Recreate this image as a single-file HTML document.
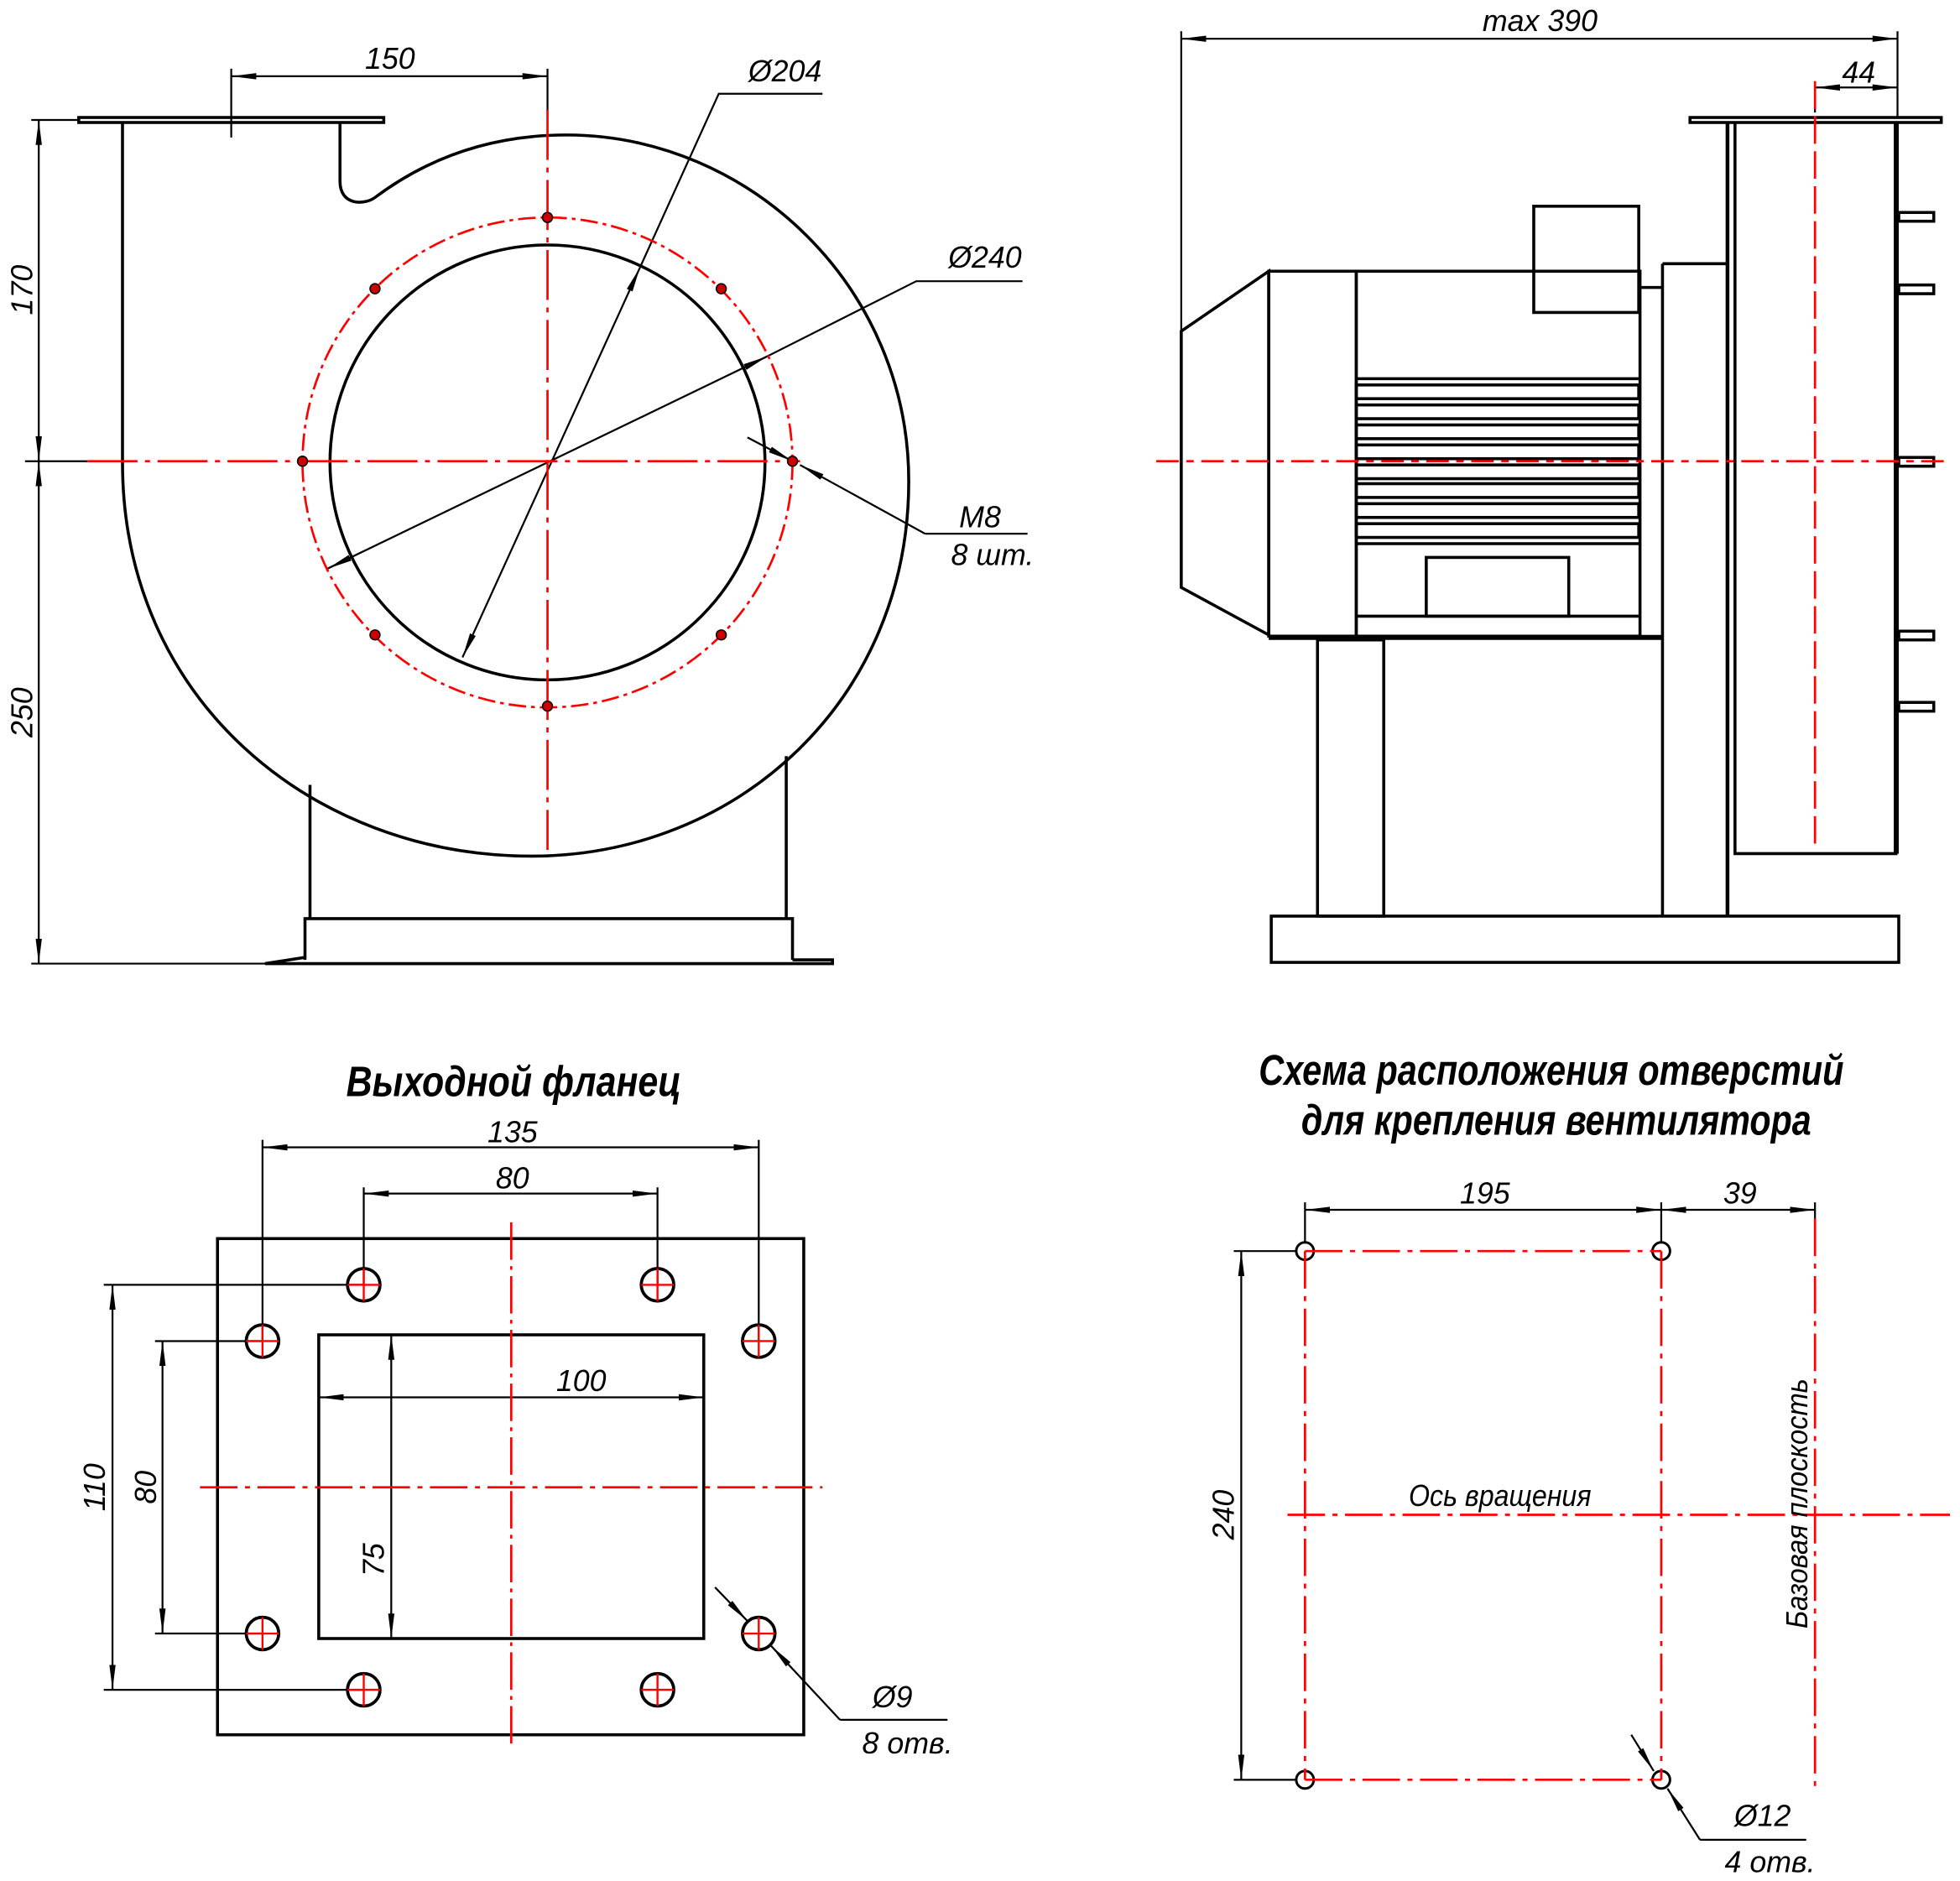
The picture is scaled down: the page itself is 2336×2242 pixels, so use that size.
<!DOCTYPE html>
<html><head><meta charset="utf-8"><style>
html,body{margin:0;padding:0;background:#fff}
svg{display:block}
text{font-family:"Liberation Sans Narrow","Liberation Sans","DejaVu Sans",sans-serif;font-style:italic;fill:#000}
</style></head><body>
<svg width="2336" height="2242" viewBox="0 0 1568 1505" preserveAspectRatio="none" xmlns="http://www.w3.org/2000/svg">
<defs>
<marker id="a" viewBox="0 0 20 6" refX="20" refY="3" markerWidth="20" markerHeight="6" markerUnits="userSpaceOnUse" orient="auto-start-reverse"><path d="M0,0.5 L20,3 L0,5.5z" fill="#000"/></marker>
</defs>
<g fill="none" stroke="#000" stroke-width="2.4">
<!-- TOP LEFT -->
<rect x="63" y="94" width="244" height="4" fill="#fff"/>
<path d="M98,98 L98,370 C98,560 250,685 425,685 C590,685 727,560 727,385 C727,230 600,108 453,108 C390,108 340,128 300,158 C292,164 272,165 272,145 L272,98"/>
<path d="M248,628 L248,735 M629,605 L629,735"/>
<path d="M244,768 L244,735 L634,735 L634,768 M212,771 L244,766 L244,768 M634,768 L666,768 L666,771 L212,771"/>
<circle cx="438" cy="370" r="174"/>
<line x1="25" y1="771" x2="248" y2="771" stroke-width="1.5"/>
<line x1="25" y1="96" x2="63" y2="96" stroke-width="1.5"/>
<line x1="31" y1="96" x2="31" y2="369" stroke-width="1.5" marker-start="url(#a)" marker-end="url(#a)"/>
<line x1="31" y1="369" x2="31" y2="771" stroke-width="1.5" marker-start="url(#a)" marker-end="url(#a)"/>
<line x1="185" y1="55" x2="185" y2="110" stroke-width="1.5"/>
<line x1="438" y1="55" x2="438" y2="90" stroke-width="1.5"/>
<line x1="185" y1="61" x2="438" y2="61" stroke-width="1.5" marker-start="url(#a)" marker-end="url(#a)"/>
<line x1="370" y1="526" x2="512" y2="214" stroke-width="1.5" marker-start="url(#a)" marker-end="url(#a)"/>
<path d="M512,214 L575,75 L658,75" stroke-width="1.5"/>
<line x1="262" y1="455" x2="614" y2="285" stroke-width="1.5" marker-start="url(#a)" marker-end="url(#a)"/>
<path d="M614,285 L733,225 L818,225" stroke-width="1.5"/>
<line x1="598" y1="350" x2="634" y2="369" stroke-width="1.5" marker-end="url(#a)"/>
<line x1="740" y1="427" x2="640" y2="372" stroke-width="1.5" marker-end="url(#a)"/>
<path d="M740,427 L822,427" stroke-width="1.5"/>
<line x1="20" y1="369" x2="70" y2="369" stroke-width="1.5"/>

<!-- TOP RIGHT -->
<line x1="945" y1="25" x2="945" y2="265" stroke-width="1.5"/>
<line x1="1518" y1="25" x2="1518" y2="95" stroke-width="1.5"/>
<line x1="945" y1="31" x2="1518" y2="31" stroke-width="1.5" marker-start="url(#a)" marker-end="url(#a)"/>
<line x1="1452" y1="65" x2="1452" y2="90" stroke-width="1.5"/>
<line x1="1452" y1="70" x2="1518" y2="70" stroke-width="1.5" marker-start="url(#a)" marker-end="url(#a)"/>
<rect x="1352" y="94" width="201" height="4" fill="#fff"/>
<path d="M1388,98 L1388,683 L1518,683"/>
<line x1="1517" y1="98" x2="1517" y2="683" stroke-width="4"/>
<line x1="1382" y1="98" x2="1382" y2="733" stroke-width="3"/>
<g>
<rect x="1519" y="170" width="28" height="7"/><rect x="1519" y="228" width="28" height="7"/>
<rect x="1519" y="366" width="28" height="7"/><rect x="1519" y="505" width="28" height="7"/>
<rect x="1519" y="562" width="28" height="7"/>
</g>
<path d="M945,265 L1015,217 L1015,508 L945,470 Z"/>
<rect x="1015" y="217" width="70" height="292"/>
<rect x="1085" y="217" width="227" height="292"/>
<rect x="1227" y="165" width="84" height="85"/>
<line x1="1085" y1="303" x2="1312" y2="303"/>
<g>
<rect x="1085" y="308" width="226" height="11"/><rect x="1085" y="324" width="226" height="11"/>
<rect x="1085" y="340" width="226" height="11"/><rect x="1085" y="356" width="226" height="11"/>
<rect x="1085" y="372" width="226" height="11"/><rect x="1085" y="387" width="226" height="11"/>
<rect x="1085" y="403" width="226" height="11"/><rect x="1085" y="419" width="226" height="11"/>
</g>
<line x1="1085" y1="435" x2="1312" y2="435"/>
<line x1="1085" y1="493" x2="1312" y2="493"/>
<rect x="1141" y="446" width="114" height="47"/>
<path d="M1312,230 L1330,230 M1330,211 L1382,211 M1330,211 L1330,733"/>
<line x1="1015" y1="510" x2="1330" y2="510" stroke-width="4"/>
<rect x="1054" y="512" width="53" height="221"/>
<rect x="1017" y="733" width="502" height="37"/>

<!-- BOTTOM LEFT -->
<rect x="174" y="991" width="469" height="397"/>
<rect x="255" y="1068" width="308" height="243"/>
<g stroke-width="2.5">
<circle cx="291" cy="1028" r="13"/><circle cx="526" cy="1028" r="13"/>
<circle cx="210" cy="1073" r="13"/><circle cx="607" cy="1073" r="13"/>
<circle cx="210" cy="1307" r="13"/><circle cx="607" cy="1307" r="13"/>
<circle cx="291" cy="1352" r="13"/><circle cx="526" cy="1352" r="13"/>
</g>
<g stroke-width="1.5">
<line x1="210" y1="912" x2="210" y2="1073"/><line x1="607" y1="912" x2="607" y2="1073"/>
<line x1="210" y1="918" x2="607" y2="918" marker-start="url(#a)" marker-end="url(#a)"/>
<line x1="291" y1="950" x2="291" y2="1028"/><line x1="526" y1="950" x2="526" y2="1028"/>
<line x1="291" y1="955" x2="526" y2="955" marker-start="url(#a)" marker-end="url(#a)"/>
<line x1="255" y1="1118" x2="563" y2="1118" marker-start="url(#a)" marker-end="url(#a)"/>
<line x1="313" y1="1068" x2="313" y2="1311" marker-start="url(#a)" marker-end="url(#a)"/>
<line x1="124" y1="1073" x2="210" y2="1073"/><line x1="124" y1="1307" x2="210" y2="1307"/>
<line x1="130" y1="1073" x2="130" y2="1307" marker-start="url(#a)" marker-end="url(#a)"/>
<line x1="83" y1="1028" x2="291" y2="1028"/><line x1="83" y1="1352" x2="291" y2="1352"/>
<line x1="90" y1="1028" x2="90" y2="1352" marker-start="url(#a)" marker-end="url(#a)"/>
<line x1="572" y1="1270" x2="598" y2="1297" marker-end="url(#a)"/>
<line x1="672" y1="1376" x2="617" y2="1317" marker-end="url(#a)"/>
<path d="M672,1376 L758,1376"/>
</g>

<!-- BOTTOM RIGHT -->
<g stroke-width="2">
<circle cx="1044" cy="1001" r="7"/><circle cx="1329" cy="1001" r="7"/>
<circle cx="1044" cy="1424" r="7"/><circle cx="1329" cy="1424" r="7"/>
</g>
<g stroke-width="1.5">
<line x1="1044" y1="962" x2="1044" y2="995"/><line x1="1329" y1="962" x2="1329" y2="995"/><line x1="1452" y1="962" x2="1452" y2="975"/>
<line x1="1044" y1="968" x2="1329" y2="968" marker-start="url(#a)" marker-end="url(#a)"/>
<line x1="1329" y1="968" x2="1452" y2="968" marker-start="url(#a)" marker-end="url(#a)"/>
<line x1="987" y1="1001" x2="1037" y2="1001"/><line x1="987" y1="1424" x2="1037" y2="1424"/>
<line x1="993" y1="1001" x2="993" y2="1424" marker-start="url(#a)" marker-end="url(#a)"/>
<line x1="1305" y1="1388" x2="1323" y2="1417" marker-end="url(#a)"/>
<line x1="1360" y1="1472" x2="1334" y2="1431" marker-end="url(#a)"/>
<path d="M1360,1472 L1445,1472"/>
</g>
</g>

<!-- RED LINES -->
<g fill="none" stroke="#f00" stroke-width="1.8">
<circle cx="438" cy="370" r="196" stroke-dasharray="14,4,3,4"/>
<line x1="70" y1="369" x2="640" y2="369" stroke-dasharray="40,6,4,6"/>
<line x1="438" y1="88" x2="438" y2="680" stroke-dasharray="40,6,4,6"/>
<line x1="925" y1="369" x2="1560" y2="369" stroke-dasharray="18,6,6,6"/>
<line x1="1452" y1="65" x2="1452" y2="680" stroke-dasharray="22,6"/>
<line x1="409" y1="978" x2="409" y2="1400" stroke-dasharray="30,5,3,5"/>
<line x1="160" y1="1190" x2="658" y2="1190" stroke-dasharray="30,6,4,6"/>
<g stroke-width="1.6">
<path d="M278,1028h26M291,1015v26M513,1028h26M526,1015v26M197,1073h26M210,1060v26M594,1073h26M607,1060v26M197,1307h26M210,1294v26M594,1307h26M607,1294v26M278,1352h26M291,1339v26M513,1352h26M526,1339v26"/>
</g>
<path d="M1044,1001H1329M1044,1424H1329M1044,1001V1424M1329,1001V1424" stroke-dasharray="30,6,4,6"/>
<line x1="1452" y1="975" x2="1452" y2="1435" stroke-dasharray="30,6,4,6"/>
<line x1="1030" y1="1212" x2="1560" y2="1212" stroke-dasharray="30,6,4,6"/>
</g>
<g fill="#c00" stroke="#000" stroke-width="1">
<circle cx="438" cy="174" r="4"/><circle cx="300" cy="231" r="4"/><circle cx="577" cy="231" r="4"/>
<circle cx="242" cy="369" r="4"/><circle cx="634" cy="369" r="4"/><circle cx="300" cy="508" r="4"/>
<circle cx="577" cy="508" r="4"/><circle cx="438" cy="565" r="4"/>
</g>

<!-- TEXT -->
<g font-size="24">
<text x="312" y="55" text-anchor="middle">150</text>
<text x="628" y="65" text-anchor="middle">Ø204</text>
<text x="788" y="214" text-anchor="middle">Ø240</text>
<text x="784" y="422" text-anchor="middle">M8</text>
<text x="794" y="452" text-anchor="middle">8 шт.</text>
<text transform="translate(26,232) rotate(-90)" text-anchor="middle">170</text>
<text transform="translate(26,570) rotate(-90)" text-anchor="middle">250</text>
<text x="1232" y="25" text-anchor="middle">max 390</text>
<text x="1487" y="66" text-anchor="middle">44</text>
<text x="410" y="914" text-anchor="middle">135</text>
<text x="410" y="951" text-anchor="middle">80</text>
<text x="465" y="1113" text-anchor="middle">100</text>
<text transform="translate(307,1248) rotate(-90)" text-anchor="middle">75</text>
<text transform="translate(125,1190) rotate(-90)" text-anchor="middle">80</text>
<text transform="translate(84,1190) rotate(-90)" text-anchor="middle">110</text>
<text x="714" y="1366" text-anchor="middle">Ø9</text>
<text x="726" y="1403" text-anchor="middle">8 отв.</text>
<text x="1188" y="963" text-anchor="middle">195</text>
<text x="1392" y="963" text-anchor="middle">39</text>
<text transform="translate(987,1212) rotate(-90)" text-anchor="middle">240</text>
<text x="1200" y="1205" text-anchor="middle" textLength="146" lengthAdjust="spacingAndGlyphs">Ось вращения</text>
<text transform="translate(1446,1203) rotate(-90)" text-anchor="middle" textLength="200" lengthAdjust="spacingAndGlyphs">Базовая  плоскость</text>
<text x="1410" y="1461" text-anchor="middle">Ø12</text>
<text x="1416" y="1498" text-anchor="middle">4 отв.</text>
</g>
<g font-size="34" font-weight="bold">
<text x="277" y="877" textLength="268" lengthAdjust="spacingAndGlyphs">Выходной фланец</text>
<text x="1007" y="868" textLength="468" lengthAdjust="spacingAndGlyphs">Схема расположения отверстий</text>
<text x="1041" y="908" textLength="408" lengthAdjust="spacingAndGlyphs">для крепления вентилятора</text>
</g>
</svg>
</body></html>
